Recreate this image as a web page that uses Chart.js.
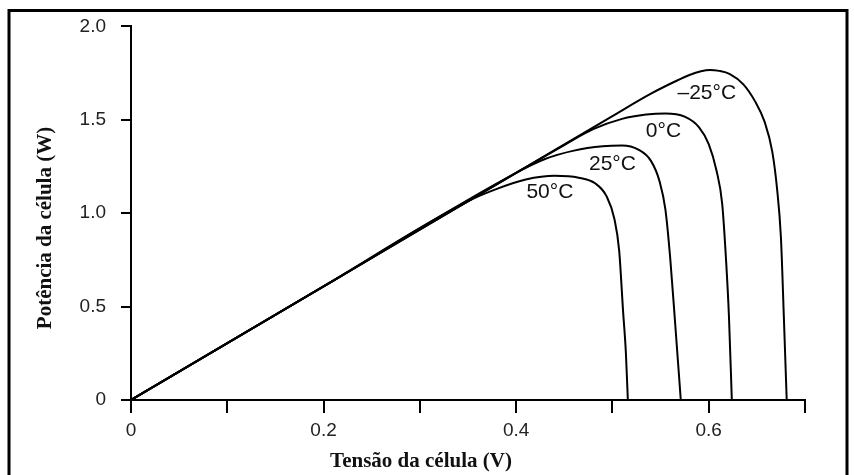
<!DOCTYPE html>
<html>
<head>
<meta charset="utf-8">
<script src="https://cdn.jsdelivr.net/npm/chart.js"></script>
<style>
  html, body { margin: 0; padding: 0; background: #fff; }
  #wrap { width: 854px; height: 475px; }
</style>
</head>
<body>
<div id="wrap"><canvas id="pv" width="854" height="475"></canvas></div>
<script>
// curvas P x V da célula para 4 temperaturas
const temps = ['\u201325\u00b0C', '0\u00b0C', '25\u00b0C', '50\u00b0C'];

const vM25 = [0, 0.2, 0.4, 0.5, 0.54, 0.565, 0.58, 0.592, 0.601, 0.611, 0.622, 0.636, 0.648, 0.658, 0.666, 0.671, 0.675, 0.678, 0.681];
const pM25 = [0, 0.608, 1.216, 1.52, 1.64, 1.705, 1.74, 1.76, 1.767, 1.762, 1.745, 1.69, 1.6, 1.49, 1.33, 1.13, 0.87, 0.45, 0];

const v0 = [0, 0.2, 0.4, 0.45, 0.48, 0.51, 0.535, 0.555, 0.575, 0.59, 0.6, 0.608, 0.614, 0.618, 0.621, 0.624];
const p0 = [0, 0.608, 1.216, 1.365, 1.45, 1.505, 1.528, 1.534, 1.517, 1.46, 1.37, 1.23, 1.05, 0.75, 0.45, 0];

const v25 = [0, 0.2, 0.4, 0.43, 0.46, 0.49, 0.51, 0.527, 0.54, 0.549, 0.555, 0.56, 0.565, 0.571];
const p25 = [0, 0.608, 1.216, 1.29, 1.335, 1.358, 1.362, 1.34, 1.28, 1.17, 1.02, 0.76, 0.42, 0];

const v50 = [0, 0.2, 0.35, 0.38, 0.41, 0.44, 0.465, 0.482, 0.494, 0.502, 0.507, 0.511, 0.514, 0.516];
const p50 = [0, 0.608, 1.064, 1.13, 1.18, 1.2, 1.19, 1.16, 1.09, 0.97, 0.8, 0.48, 0.25, 0];

// posição dos rótulos (centro do texto) em V / W
const labelV = [0.598, 0.553, 0.500, 0.435];
const labelP = [1.64, 1.437, 1.261, 1.111];

const xTicks = { min: 0, max: 0.7, step: 0.1 };
const yTicks = { min: 0, max: 2.0, step: 0.5 };

const series = [[vM25, pM25], [v0, p0], [v25, p25], [v50, p50]];

function pts(vs, ps) {
  return vs.map((v, i) => ({ x: v, y: ps[i] }));
}

const tickFont = { family: '"Liberation Sans", Arial, sans-serif', size: 19 };

const extras = {
  id: 'extras',
  afterDraw(chart) {
    const ctx = chart.ctx;
    const xs = chart.scales.x, ys = chart.scales.y;
    ctx.save();
    // moldura externa
    ctx.strokeStyle = '#000';
    ctx.lineWidth = 3;
    ctx.strokeRect(9, 10.5, 838, 480);
    // rótulos das curvas
    ctx.fillStyle = '#111';
    ctx.font = '21px "Liberation Sans", Arial, sans-serif';
    ctx.textAlign = 'center';
    ctx.textBaseline = 'middle';
    temps.forEach((t, i) => {
      ctx.fillText(t, xs.getPixelForValue(labelV[i]), ys.getPixelForValue(labelP[i]));
    });
    // títulos dos eixos
    ctx.font = 'bold 21px "Liberation Serif", "Times New Roman", serif';
    ctx.fillText('Tensão da célula (V)', 421, 462);
    ctx.translate(46, 228);
    ctx.rotate(-Math.PI / 2);
    ctx.fillText('Potência da célula (W)', 0, 0);
    ctx.restore();
  }
};

new Chart(document.getElementById('pv'), {
  type: 'scatter',
  data: {
    datasets: series.map((s, i) => ({
      label: temps[i],
      data: pts(s[0], s[1]),
      showLine: true,
      borderColor: '#000',
      borderWidth: 2,
      pointRadius: 0,
      cubicInterpolationMode: 'monotone',
      fill: false
    }))
  },
  options: {
    responsive: false,
    animation: false,
    layout: { padding: { left: 0, right: 49, top: 22, bottom: 0 } },
    plugins: { legend: { display: false }, tooltip: { enabled: false } },
    scales: {
      x: {
        type: 'linear',
        min: xTicks.min, max: xTicks.max,
        ticks: {
          stepSize: xTicks.step,
          autoSkip: false,
          maxRotation: 0,
          padding: 6,
          color: '#222',
          font: tickFont,
          callback: v => {
            const k = Math.round(v * 10);
            if (k % 2) return '';
            return k === 0 ? '0' : (k / 10).toFixed(1);
          }
        },
        grid: { display: true, drawOnChartArea: false, drawTicks: true, tickLength: 13, color: '#000', lineWidth: 2 },
        border: { display: true, color: '#000', width: 2 },
        afterFit(s) { s.height = 75; }
      },
      y: {
        type: 'linear',
        min: yTicks.min, max: yTicks.max,
        ticks: {
          stepSize: yTicks.step,
          padding: 15,
          color: '#222',
          font: tickFont,
          callback: v => v === 0 ? '0' : v.toFixed(1)
        },
        grid: { display: true, drawOnChartArea: false, drawTicks: true, tickLength: 10, color: '#000', lineWidth: 2 },
        border: { display: true, color: '#000', width: 2 },
        afterFit(s) { s.width = 131; }
      }
    }
  },
  plugins: [extras]
});
</script>
</body>
</html>
